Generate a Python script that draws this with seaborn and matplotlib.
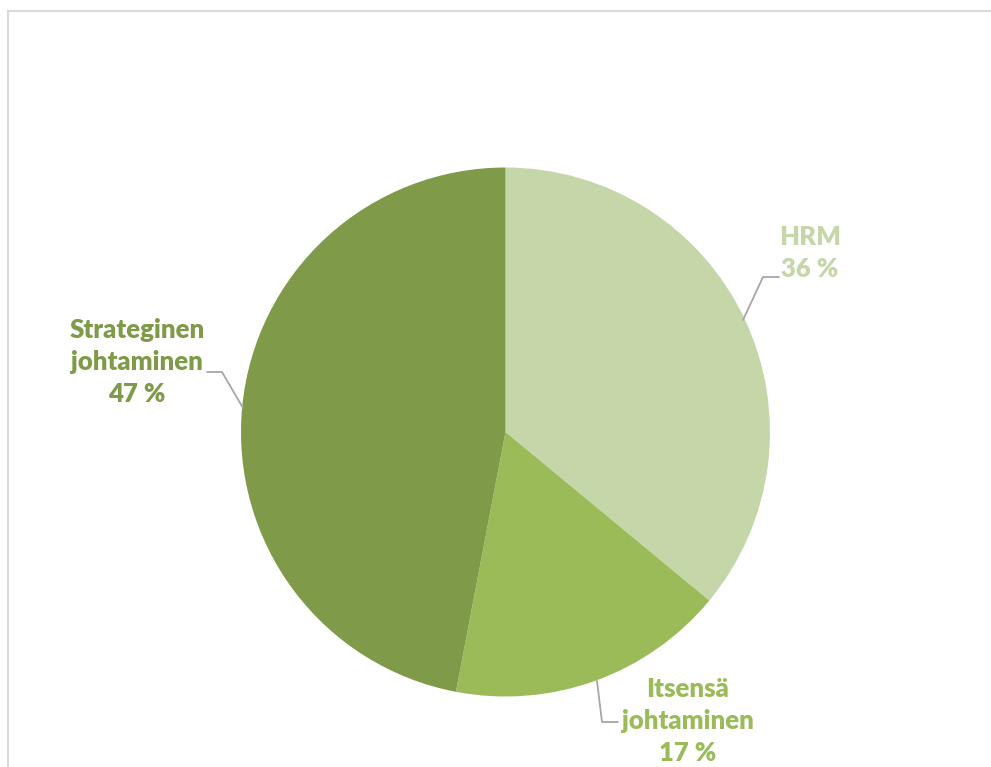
import matplotlib
matplotlib.use("Agg")
import matplotlib.pyplot as plt
import matplotlib.patches as mpatches
import seaborn as sns

categories = ["HRM", "Itsensä\njohtaminen", "Strateginen\njohtaminen"]
shares = [36, 17, 47]
colors = ["#C5D6A9", "#9BBB59", "#7F9A48"]

sns.set_theme(style="white")
plt.rcParams["font.family"] = ["Lato", "DejaVu Sans"]

W, H = 991, 767
fig = plt.figure(figsize=(W / 100, H / 100), dpi=100)
ax = fig.add_axes([0, 0, 1, 1])

cx, cy, r = 505.5, H - 432, 264.5
wedges, _ = ax.pie(shares, colors=colors, startangle=90, counterclock=False,
                   center=(cx, cy), radius=r,
                   wedgeprops=dict(linewidth=0))
ax.set_xlim(0, W)
ax.set_ylim(0, H)
ax.set_aspect("auto")
ax.axis("off")

# frame border (top and left visible)
fig.add_artist(mpatches.Rectangle((8 / W, -0.1), 1.2, (H - 11) / H + 0.1,
                                  transform=fig.transFigure, fill=False,
                                  edgecolor="#D9D9D9", linewidth=1.5))

label_pos = [(810, 253), (688, 721), (137, 362)]
leaders = [
    [(743, 320), (763, 277), (779, 277)],
    [(597, 681), (602, 722), (618, 722)],
    [(243, 408), (222, 372), (207, 372)],
]
for cat, val, col, (lx, ly), pts in zip(categories, shares, colors, label_pos, leaders):
    txt = f"{cat}\n{val} %"
    ax.text(lx, H - ly, txt, ha="center", va="center", color=col,
            fontsize=18.5, fontweight="heavy", linespacing=1.4)
    xs = [p[0] for p in pts]
    ys = [H - p[1] for p in pts]
    ax.plot(xs, ys, color="#A6A6A6", linewidth=1.3)

fig.savefig("out.png", dpi=100)
